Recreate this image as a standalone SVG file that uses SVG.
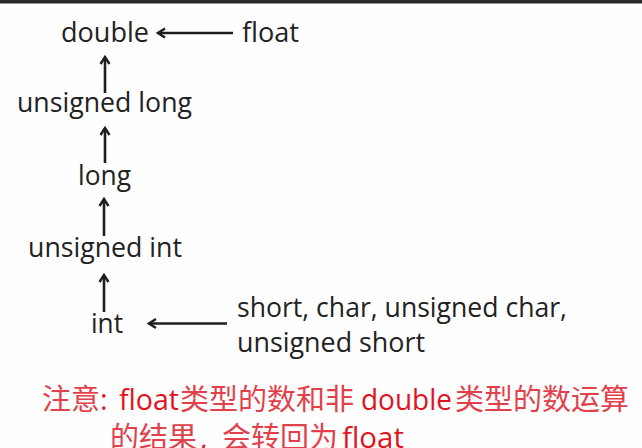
<svg xmlns="http://www.w3.org/2000/svg" width="642" height="448" viewBox="0 0 642 448">
<defs>
<style>
.t{font-family:"Open Sans","Liberation Sans",sans-serif;font-size:28px;fill:#222222}
.c{stroke:#1e1e1e;stroke-width:2.6;fill:none}
.r{font-family:"Open Sans","Noto Sans CJK SC",sans-serif;fill:#e0141e}
.rz{font-family:"Noto Sans CJK SC",sans-serif;font-size:29px;fill:#e2404a}
.rl{font-size:29px}
</style>
<marker id="ah" viewBox="-10 -6 12 12" refX="0" refY="0" markerWidth="12" markerHeight="12" markerUnits="userSpaceOnUse" orient="auto">
<path d="M-7,-4.5 L0,0 L-7,4.5" fill="none" stroke="#1e1e1e" stroke-width="2.4" stroke-linejoin="miter"/>
</marker>
</defs>
<rect width="642" height="448" fill="#fefefe"/>
<rect x="0" y="0" width="642" height="3.5" fill="#2b2b2b"/>

<g id="connectors">
<line class="c" x1="233" y1="33" x2="158" y2="33" marker-end="url(#ah)"/>
<line class="c" x1="105" y1="93" x2="105" y2="57" marker-end="url(#ah)"/>
<line class="c" x1="105" y1="163" x2="105" y2="128" marker-end="url(#ah)"/>
<line class="c" x1="104" y1="236" x2="104" y2="199" marker-end="url(#ah)"/>
<line class="c" x1="104" y1="312" x2="104" y2="275" marker-end="url(#ah)"/>
<line class="c" x1="227" y1="323.5" x2="149" y2="323.5" marker-end="url(#ah)"/>
</g>

<g id="double"><text class="t" x="61" y="42" textLength="88" lengthAdjust="spacingAndGlyphs">double</text></g>
<g id="float"><text class="t" x="242" y="42" textLength="57" lengthAdjust="spacingAndGlyphs">float</text></g>
<g id="unsigned-long"><text class="t" x="17" y="112" textLength="175" lengthAdjust="spacingAndGlyphs">unsigned long</text></g>
<g id="long"><text class="t" x="78" y="185" textLength="53" lengthAdjust="spacingAndGlyphs">long</text></g>
<g id="unsigned-int"><text class="t" x="28" y="257" textLength="154" lengthAdjust="spacingAndGlyphs">unsigned int</text></g>
<g id="int"><text class="t" x="91" y="333" textLength="32" lengthAdjust="spacingAndGlyphs">int</text></g>
<g id="small-types">
<text class="t" x="237" y="317" textLength="330" lengthAdjust="spacingAndGlyphs">short, char, unsigned char,</text>
<text class="t" x="237" y="352" textLength="188" lengthAdjust="spacingAndGlyphs">unsigned short</text>
</g>

<g id="note">
<text x="42" y="410"><tspan class="rz" font-size="27">注意</tspan><tspan class="r rl" x="100">:</tspan><tspan class="r rl" x="119" textLength="60" lengthAdjust="spacingAndGlyphs">float</tspan><tspan class="rz" x="180">类型的数和非</tspan><tspan class="r rl" x="361" textLength="91" lengthAdjust="spacingAndGlyphs">double</tspan><tspan class="rz" x="455">类型的数运算</tspan></text>
<text x="110" y="448"><tspan class="rz">的结果</tspan><tspan class="r rl" x="200">,</tspan><tspan class="rz" x="222">会转回为</tspan><tspan class="r rl" x="342" textLength="62" lengthAdjust="spacingAndGlyphs">float</tspan></text>
</g>
</svg>
